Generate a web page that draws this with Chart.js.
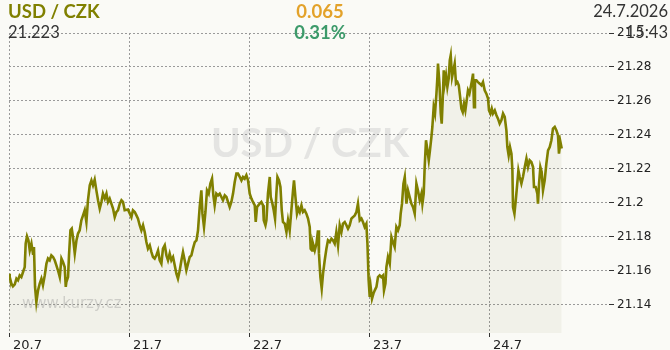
<!DOCTYPE html>
<html>
<head>
<meta charset="utf-8">
<script src="https://cdn.jsdelivr.net/npm/chart.js@4.4.1/dist/chart.umd.min.js"></script>
<style>
  html, body { margin:0; padding:0; background:#fafaf6; }
  #wrap { position:relative; width:670px; height:350px; overflow:hidden; }
  canvas { position:absolute; left:0; top:0; }
  .t { position:absolute; line-height:1; white-space:nowrap; font-family:Lato, "Open Sans", sans-serif; }
</style>
</head>
<body>
<div id="wrap">
  <canvas id="c" width="670" height="350"></canvas>
  <div class="t" id="title" style="left:8px; top:2px; font-size:18.5px; font-weight:bold; color:#808000;"></div>
  <div class="t" id="chg" style="left:320px; top:2px; font-size:18.5px; font-weight:bold; color:#e3a22a; transform:translateX(-50%);"></div>
  <div class="t" id="date" style="right:2px; top:3px; font-size:16.5px; color:#333;"></div>
  <div class="t" id="last" style="left:8px; top:24px; font-size:16.5px; color:#333;"></div>
  <div class="t" id="pct" style="left:320px; top:23px; font-size:18.5px; font-weight:bold; color:#3c9a6a; transform:translateX(-50%);"></div>
  <div class="t" id="time" style="right:2px; top:24px; font-size:16.5px; color:#333;"></div>
</div>
<script>
// ---- header texts ----
const pairName = "USD / CZK";
const lastRate = "21.223";
const changeAbs = "0.065";
const changePct = "0.31%";
const dateText = "24.7.2026";
const timeText = "15:43";
const siteText = "www.kurzy.cz";

// ---- axis ticks ----
const xTickValues = [0, 1, 2, 3, 4];           // days since 20.7 00:00
const xTickLabels = ["20.7", "21.7", "22.7", "23.7", "24.7"];
const yTickValues = [21.14, 21.16, 21.18, 21.2, 21.22, 21.24, 21.26, 21.28, 21.3];
const yTickLabels = ["21.14", "21.16", "21.18", "21.2", "21.22", "21.24", "21.26", "21.28", "21.3"];

// ---- series: time (days since 20.7 00:00) and USD/CZK rate ----
const times = [
0.000,0.006,0.020,0.033,0.048,0.062,0.075,0.089,0.103,0.117,0.131,0.139,0.150,0.162,0.173,0.187,0.200,0.208,0.217,0.228,
0.242,0.256,0.270,0.283,0.298,0.312,0.325,0.339,0.353,0.367,0.381,0.395,0.408,0.423,0.437,0.450,0.464,0.473,0.478,0.492,
0.500,0.512,0.523,0.533,0.548,0.562,0.575,0.589,0.603,0.617,0.631,0.645,0.658,0.673,0.687,0.700,0.714,0.728,0.742,0.756,
0.770,0.783,0.798,0.812,0.825,0.839,0.853,0.867,0.881,0.895,0.908,0.923,0.937,0.950,0.964,0.992,1.020,1.033,1.048,1.062,
1.075,1.089,1.103,1.117,1.131,1.145,1.158,1.173,1.187,1.200,1.214,1.228,1.242,1.256,1.270,1.283,1.298,1.312,1.325,1.339,
1.353,1.367,1.381,1.395,1.408,1.423,1.437,1.450,1.464,1.478,1.492,1.506,1.520,1.533,1.548,1.562,1.575,1.589,1.603,1.612,
1.625,1.637,1.650,1.664,1.678,1.692,1.703,1.714,1.728,1.742,1.756,1.770,1.783,1.798,1.812,1.825,1.839,1.853,1.867,1.881,
1.895,1.908,1.923,1.937,1.950,1.964,1.978,1.992,2.006,2.020,2.033,2.048,2.056,2.067,2.089,2.103,2.117,2.123,2.137,2.145,
2.158,2.173,2.181,2.195,2.206,2.217,2.228,2.237,2.250,2.262,2.273,2.283,2.298,2.312,2.325,2.339,2.353,2.367,2.375,2.387,
2.400,2.412,2.423,2.437,2.450,2.464,2.478,2.492,2.506,2.514,2.525,2.533,2.548,2.562,2.575,2.583,2.595,2.606,2.617,2.631,
2.645,2.658,2.673,2.687,2.700,2.714,2.728,2.742,2.756,2.770,2.783,2.798,2.812,2.825,2.839,2.853,2.867,2.881,2.895,2.908,
2.923,2.937,2.950,2.964,2.978,2.987,2.997,3.006,3.014,3.025,3.037,3.048,3.062,3.075,3.089,3.103,3.117,3.125,3.137,3.145,
3.158,3.173,3.187,3.200,3.214,3.228,3.242,3.256,3.264,3.275,3.287,3.298,3.312,3.325,3.339,3.353,3.367,3.381,3.395,3.408,
3.423,3.437,3.445,3.456,3.464,3.475,3.487,3.498,3.508,3.520,3.528,3.539,3.550,3.562,3.570,3.575,3.587,3.598,3.606,3.614,
3.623,3.631,3.642,3.653,3.664,3.673,3.681,3.692,3.703,3.714,3.725,3.737,3.748,3.758,3.770,3.781,3.792,3.803,3.814,3.825,
3.837,3.848,3.858,3.867,3.875,3.883,3.895,3.908,3.923,3.937,3.950,3.964,3.978,3.992,4.000,4.012,4.023,4.033,4.048,4.062,
4.075,4.089,4.103,4.117,4.131,4.145,4.153,4.164,4.175,4.187,4.195,4.200,4.212,4.223,4.233,4.245,4.256,4.270,4.283,4.298,
4.312,4.325,4.339,4.353,4.367,4.375,4.389,4.403,4.408,4.417,4.428,4.439,4.450,4.464,4.478,4.492,4.506,4.520,4.533,4.548,
4.562,4.575,4.583,4.595,4.606
];
const rates = [
21.1584,21.1564,21.1526,21.1510,21.1521,21.1555,21.1545,21.1574,21.1564,21.1594,21.1623,21.1761,21.1804,21.1780,21.1721,21.1761,21.1702,21.1741,21.1506,21.1417,
21.1486,21.1526,21.1555,21.1516,21.1574,21.1643,21.1673,21.1663,21.1692,21.1682,21.1663,21.1633,21.1604,21.1564,21.1673,21.1653,21.1623,21.1506,21.1535,21.1564,
21.1692,21.1839,21.1849,21.1800,21.1702,21.1780,21.1820,21.1839,21.1898,21.1927,21.1957,21.1888,21.2016,21.2104,21.2133,21.2104,21.2137,21.2074,21.2016,21.1967,
21.2006,21.2055,21.2026,21.2055,21.2006,21.2026,21.1996,21.1967,21.1917,21.1947,21.1957,21.1996,21.2016,21.2006,21.1957,21.1961,21.1917,21.1957,21.1947,21.1927,
21.1908,21.1869,21.1839,21.1869,21.1829,21.1770,21.1731,21.1751,21.1711,21.1682,21.1673,21.1692,21.1721,21.1663,21.1643,21.1731,21.1751,21.1692,21.1663,21.1702,
21.1663,21.1682,21.1633,21.1584,21.1555,21.1604,21.1663,21.1711,21.1663,21.1604,21.1643,21.1682,21.1692,21.1731,21.1770,21.1780,21.1839,21.1976,21.2074,21.1937,
21.1859,21.1947,21.2074,21.2055,21.2114,21.2143,21.2045,21.1986,21.2055,21.2045,21.2055,21.2035,21.2016,21.2045,21.2035,21.2006,21.1976,21.2006,21.2055,21.2123,
21.2173,21.2173,21.2153,21.2133,21.2153,21.2143,21.2163,21.2133,21.2055,21.2026,21.2006,21.1986,21.1888,21.1976,21.1996,21.2006,21.1986,21.1898,21.1869,21.1898,
21.2055,21.2153,21.2035,21.1996,21.1957,21.1908,21.2055,21.2153,21.2133,21.2094,21.1957,21.1888,21.1878,21.1829,21.1898,21.1839,21.1957,21.2074,21.2133,21.2035,
21.1937,21.1967,21.1947,21.1986,21.1947,21.1957,21.1937,21.1908,21.1859,21.1731,21.1721,21.1761,21.1721,21.1761,21.1839,21.1702,21.1564,21.1496,21.1584,21.1663,
21.1731,21.1780,21.1770,21.1790,21.1780,21.1761,21.1829,21.1751,21.1869,21.1829,21.1878,21.1888,21.1869,21.1849,21.1869,21.1908,21.1917,21.1927,21.1947,21.1996,
21.1898,21.1908,21.1888,21.1859,21.1878,21.1761,21.1545,21.1447,21.1506,21.1437,21.1467,21.1486,21.1506,21.1564,21.1574,21.1564,21.1574,21.1486,21.1526,21.1623,
21.1682,21.1643,21.1800,21.1770,21.1741,21.1859,21.1839,21.1869,21.1937,21.1996,21.2114,21.2153,21.1996,21.2074,21.2035,21.1996,21.1976,21.1937,21.2114,21.2074,
21.2016,21.2055,21.1996,21.2055,21.2211,21.2369,21.2310,21.2251,21.2310,21.2388,21.2447,21.2564,21.2526,21.2643,21.2741,21.2820,21.2702,21.2526,21.2467,21.2604,
21.2780,21.2702,21.2751,21.2682,21.2731,21.2839,21.2869,21.2741,21.2780,21.2820,21.2702,21.2711,21.2692,21.2633,21.2555,21.2535,21.2584,21.2545,21.2604,21.2663,
21.2643,21.2682,21.2721,21.2761,21.2564,21.2721,21.2721,21.2711,21.2702,21.2692,21.2711,21.2663,21.2643,21.2614,21.2545,21.2526,21.2555,21.2526,21.2545,21.2516,
21.2496,21.2467,21.2486,21.2526,21.2506,21.2427,21.2329,21.2280,21.2329,21.2290,21.2192,21.1976,21.1937,21.2016,21.2094,21.2192,21.2153,21.2114,21.2153,21.2211,
21.2261,21.2211,21.2251,21.2241,21.2211,21.2094,21.2094,21.2055,21.1996,21.2114,21.2211,21.2182,21.2074,21.2133,21.2231,21.2310,21.2329,21.2369,21.2437,21.2447,
21.2427,21.2398,21.2290,21.2359,21.2320
];

document.getElementById('title').textContent = pairName;
document.getElementById('chg').textContent = changeAbs;
document.getElementById('date').textContent = dateText;
document.getElementById('last').textContent = lastRate;
document.getElementById('pct').textContent = changePct;
document.getElementById('time').textContent = timeText;

const watermark = {
  id: 'watermark',
  beforeDraw(chart) {
    const c = chart.ctx;
    c.save();
    c.fillStyle = '#fafaf6';
    c.fillRect(0, 0, chart.width, chart.height);
    c.fillStyle = '#e4e4e2';
    c.font = 'bold 40px Lato, sans-serif';
    c.textAlign = 'center';
    c.textBaseline = 'alphabetic';
    c.fillText(pairName, 310, 157);
    c.fillStyle = '#d4d4d2';
    c.font = '15px "DejaVu Sans", sans-serif';
    c.textAlign = 'left';
    c.fillText(siteText, 22, 308);
    c.restore();
  }
};

const gridColor = '#9a9a9a';
new Chart(document.getElementById('c'), {
  type: 'line',
  data: {
    datasets: [{
      data: times.map((t, i) => ({ x: t, y: rates[i] })),
      borderColor: '#808000',
      borderWidth: 2.6,
      pointRadius: 0,
      tension: 0,
      fill: 'start',
      backgroundColor: 'rgba(120,120,60,0.065)'
    }]
  },
  options: {
    responsive: false,
    animation: false,
    devicePixelRatio: 1,
    layout: { padding: { left: 9, top: 33, right: 0, bottom: 0 } },
    plugins: { legend: { display: false }, tooltip: { enabled: false } },
    scales: {
      x: {
        type: 'linear',
        min: 0,
        max: 5,
        afterBuildTicks: s => { s.ticks = xTickValues.map(v => ({ value: v })); },
        afterFit: s => { s.height = 17; },
        ticks: {
          callback: (v, i) => xTickLabels[i],
          align: 'start',
          labelOffset: 4,
          padding: 1,
          maxRotation: 0,
          autoSkip: false,
          color: '#222',
          font: { family: 'DejaVu Sans', size: 13 }
        },
        grid: { color: gridColor, lineWidth: 1, tickLength: 4, tickColor: '#333', tickBorderDash: [] },
        border: { display: false, dash: [2, 2] }
      },
      y: {
        position: 'right',
        min: 21.1235,
        max: 21.3,
        afterBuildTicks: s => { s.ticks = yTickValues.map(v => ({ value: v })); },
        afterFit: s => { s.width = 61; },
        ticks: {
          callback: (v, i) => yTickLabels[i],
          padding: 3,
          color: '#222',
          font: { family: 'DejaVu Sans', size: 12 }
        },
        grid: { color: gridColor, lineWidth: 1, tickLength: 5, tickColor: '#333', tickBorderDash: [] },
        border: { display: false, dash: [2, 2] }
      }
    }
  },
  plugins: [watermark]
});
</script>
</body>
</html>
